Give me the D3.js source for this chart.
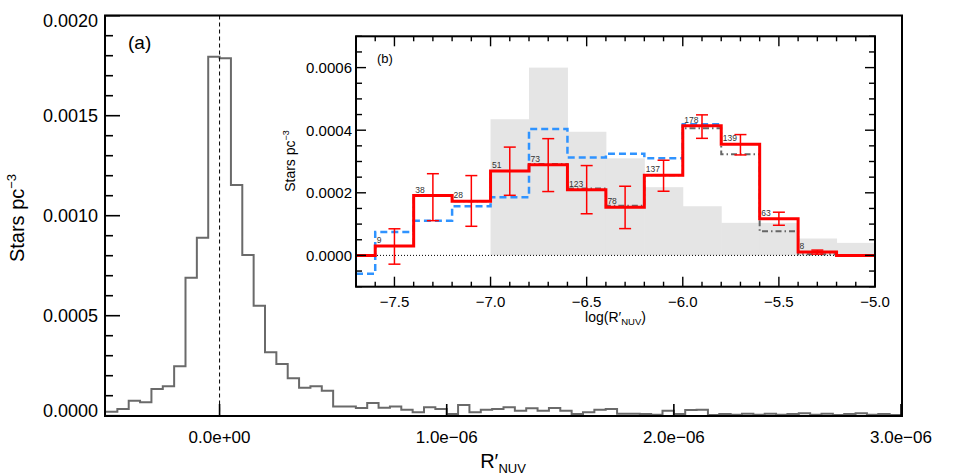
<!DOCTYPE html>
<html><head><meta charset="utf-8">
<script src="https://cdn.jsdelivr.net/npm/d3@7"></script>
<style>body{margin:0;background:#fff}svg{display:block;font-family:"Liberation Sans",Arial,Helvetica,sans-serif}</style>
</head><body><svg id="c" width="954" height="476"></svg>
<script>
// ---------- Panel (a): histogram of R'NUV ----------
const mainBinLeftE6 = [-0.50,-0.45,-0.40,-0.35,-0.30,-0.25,-0.20,-0.15,-0.10,-0.05,
 0.00,0.05,0.10,0.15,0.20,0.25,0.30,0.35,0.40,0.45,0.50,0.55,0.60,0.65,0.70,0.75,0.80,0.85,0.90,0.95,
 1.00,1.05,1.10,1.15,1.20,1.25,1.30,1.35,1.40,1.45,1.50,1.55,1.60,1.65,1.70,1.75,1.80,1.85,1.90,1.95,
 2.00,2.05,2.10,2.15,2.20,2.25,2.30,2.35,2.40,2.45,2.50,2.55,2.60,2.65,2.70,2.75,2.80,2.85,2.90,2.95];
const mainBinWidthE6 = 0.05;
const mainValues = [0.00002,0.000033,0.000075,0.000067,0.000133,0.000147,0.000247,0.00069,0.00089,0.001795,
 0.001787,0.001153,0.000803,0.00055,0.000317,0.000258,0.000187,0.00014,0.000147,0.000125,
 0.000046,0.000046,0.000038,0.000063,0.00004,0.000046,0.00003,0.000017,0.000042,0.000033,
 0.000008,0.000053,0.000017,0.00003,0.000033,0.000042,0.000025,0.000037,0.000025,0.000038,
 0.000025,0.000008,0.000017,0.00003,0.000033,0.00001,0.00001,0.000008,0.000005,0.000025,
 0.000008,0.000028,0.00003,0.000003,0.000008,0.000005,0.00001,0.000005,0.00001,0.000005,
 0.000008,0.000012,0.000005,0.00001,0.000003,0.000008,0.000012,0.000005,0.000008,0.000003];
const mainYTicks = [0,0.0005,0.0010,0.0015,0.0020];
const mainYTickLabels = ["0.0000","0.0005","0.0010","0.0015","0.0020"];
const mainXTicks = [0,1e-6,2e-6,3e-6];
const mainXTickLabels = ["0.0e+00","1.0e\u221206","2.0e\u221206","3.0e\u221206"];

// ---------- Panel (b): log(R'NUV) distribution ----------
const redBinLeft = [-7.7,-7.6,-7.4,-7.2,-7.0,-6.8,-6.6,-6.4,-6.2,-6.0,-5.8,-5.6,-5.4,-5.2];
const redValues  = [0,0.00003,0.000191,0.000173,0.00027,0.00029,0.00021,0.000154,0.000256,0.000414,0.000355,0.000117,0.0000107,0];
const errCenters = [-7.5,-7.3,-7.1,-6.9,-6.7,-6.5,-6.3,-6.1,-5.9,-5.7,-5.5,-5.3];
const errUpper = [0.000085,0.000261,0.000255,0.000346,0.000373,0.000287,0.000221,0.000304,0.000449,0.000386,0.000138,0.000017];
const errLower = [-0.000028,0.000111,0.000093,0.000192,0.000204,0.000133,0.0000856,0.000205,0.000374,0.000321,0.0000963,0.000004];
const countLeft = [-7.6,-7.4,-7.2,-7.0,-6.8,-6.6,-6.4,-6.2,-6.0,-5.8,-5.6,-5.4];
const countValues = [0.00003,0.000191,0.000173,0.00027,0.00029,0.00021,0.000154,0.000256,0.000414,0.000355,0.000117,0.0000107];
const countLabels = ["9","38","28","51","73","123","78","137","178","139","63","8"];
const blueBinLeft = [-7.7,-7.6,-7.4,-7.2,-7.0,-6.8,-6.6,-6.4,-6.2,-6.0];
const blueValues  = [-0.0000586,0.0000746,0.000111,0.000157,0.000186,0.000404,0.000313,0.000325,0.00031,0.000419];
const blueEnd = -5.8;
const dashDotBinLeft = [-7.6,-7.4,-7.2,-7.0,-6.8,-6.6,-6.4,-6.2,-6.0,-5.8,-5.6,-5.4,-5.2];
const dashDotValues  = [0.00003,0.000191,0.000173,0.00027,0.000292,0.000214,0.000159,0.000256,0.000406,0.000323,0.000077,0.000004,0];
const grayBinLeft = [-7.0,-6.8,-6.6,-6.4,-6.2,-6.0,-5.8,-5.6,-5.4,-5.2];
const grayValues  = [0.000435,0.0006,0.000395,0.00031,0.000218,0.000157,0.000104,0.000104,0.000054,0.00004];
const logBinWidth = 0.2;
const insetYTicks = [0,0.0002,0.0004,0.0006];
const insetYTickLabels = ["0.0000","0.0002","0.0004","0.0006"];
const insetXTicks = [-7.5,-7.0,-6.5,-6.0,-5.5,-5.0];
const insetXTickLabels = ["\u22127.5","\u22127.0","\u22126.5","\u22126.0","\u22125.5","\u22125.0"];

const svg = d3.select("#c");

// ===== main panel =====
const M = {l:105, r:902, t:15.5, b:416};
const mx = d3.scaleLinear().domain([-5e-7,3e-6]).range([106,901]);
const my = d3.scaleLinear().domain([0,0.002]).range([415.7,15.7]);

const pts = mainBinLeftE6.map((e,i)=>[e*1e-6, mainValues[i]]);
pts.push([(mainBinLeftE6[mainBinLeftE6.length-1]+mainBinWidthE6)*1e-6, mainValues[mainValues.length-1]]);
svg.append("path").attr("d", d3.line().x(d=>mx(d[0])).y(d=>my(d[1])).curve(d3.curveStepAfter)(pts))
  .attr("fill","none").attr("stroke","#6a6a6a").attr("stroke-width",2);

svg.append("line").attr("x1",mx(0)).attr("x2",mx(0)).attr("y1",M.t).attr("y2",M.b)
  .attr("stroke","#000").attr("stroke-width",1).attr("stroke-dasharray","4,3");

svg.append("rect").attr("x",M.l).attr("y",M.t).attr("width",M.r-M.l).attr("height",M.b-M.t)
  .attr("fill","none").attr("stroke","#000").attr("stroke-width",2);

const yMinor = d3.range(0,0.00201,0.0001);
yMinor.forEach(v=>{
  const major = Math.abs(v/0.0005-Math.round(v/0.0005))<1e-6;
  svg.append("line").attr("x1",M.l).attr("x2",M.l+(major?15:8)).attr("y1",my(v)).attr("y2",my(v))
    .attr("stroke","#000").attr("stroke-width",1.6);
});
mainYTicks.forEach((v,i)=>{
  let y = Math.min(Math.max(my(v),21),411);
  svg.append("text").attr("x",98).attr("y",y).attr("dy","0.36em").attr("text-anchor","end")
    .attr("font-size",18).text(mainYTickLabels[i]);
});
mainXTicks.forEach((v,i)=>{
  svg.append("line").attr("x1",mx(v)).attr("x2",mx(v)).attr("y1",M.b).attr("y2",M.b-12)
    .attr("stroke","#000").attr("stroke-width",1.6);
  svg.append("text").attr("x",mx(v)).attr("y",443).attr("text-anchor","middle")
    .attr("font-size",17).text(mainXTickLabels[i]);
});
const xt = svg.append("text").attr("x",503).attr("y",468).attr("text-anchor","middle").attr("font-size",20);
xt.append("tspan").text("R\u2032");
xt.append("tspan").attr("font-size",13).attr("dy",5).text("NUV");
const yt = svg.append("text").attr("transform","translate(24,218) rotate(-90)").attr("text-anchor","middle").attr("font-size",20);
yt.append("tspan").text("Stars pc");
yt.append("tspan").attr("font-size",13).attr("dy",-8).text("\u22123");
svg.append("text").attr("x",128).attr("y",49).attr("font-size",19).text("(a)");

// ===== inset =====
const I = {l:356, r:875, t:36.3, b:286.7};
const ix = d3.scaleLinear().domain([-7.7,-5.0]).range([I.l,I.r]);
const iy = d3.scaleLinear().domain([-0.0001,0.0007]).range([I.b,I.t]);
const g = svg.append("g");
g.append("rect").attr("x",I.l).attr("y",I.t).attr("width",I.r-I.l).attr("height",I.b-I.t).attr("fill","#fff");

grayBinLeft.forEach((x,i)=>{
  g.append("rect").attr("x",ix(x)).attr("width",ix(x+logBinWidth)-ix(x)+0.5)
    .attr("y",iy(grayValues[i])).attr("height",iy(0)-iy(grayValues[i])).attr("fill","#e5e5e5");
});
g.append("line").attr("x1",I.l).attr("x2",I.r).attr("y1",iy(0)).attr("y2",iy(0))
  .attr("stroke","#000").attr("stroke-width",1).attr("stroke-dasharray","1,2");

const stepLine = d3.line().x(d=>ix(d[0])).y(d=>iy(d[1])).curve(d3.curveStepAfter);
const bp = blueBinLeft.map((x,i)=>[x,blueValues[i]]); bp.push([blueEnd, blueValues[blueValues.length-1]]);
g.append("path").attr("d",stepLine(bp)).attr("fill","none").attr("stroke","#2f93ff")
  .attr("stroke-width",2.5).attr("stroke-dasharray","7,4");
const dp = dashDotBinLeft.map((x,i)=>[x,dashDotValues[i]]); dp.push([-5.0,0]);
g.append("path").attr("d",stepLine(dp)).attr("fill","none").attr("stroke","#666")
  .attr("stroke-width",2).attr("stroke-dasharray","6,3,1.5,3");
const rp = redBinLeft.map((x,i)=>[x,redValues[i]]); rp.push([-5.0,0]);
g.append("path").attr("d",stepLine(rp)).attr("fill","none").attr("stroke","#ff0000").attr("stroke-width",3);
errCenters.forEach((c,i)=>{
  const x=ix(c), y1=iy(errUpper[i]), y2=iy(errLower[i]);
  g.append("line").attr("x1",x).attr("x2",x).attr("y1",y1).attr("y2",y2).attr("stroke","#ff0000").attr("stroke-width",1.5);
  [y1,y2].forEach(y=>g.append("line").attr("x1",x-6).attr("x2",x+6).attr("y1",y).attr("y2",y).attr("stroke","#ff0000").attr("stroke-width",1.5));
});
countLeft.forEach((x,i)=>{
  g.append("text").attr("x",ix(x)+1.5).attr("y",iy(countValues[i])-3).attr("font-size",8.5)
    .attr("fill","#333").text(countLabels[i]);
});
g.append("rect").attr("x",I.l).attr("y",I.t).attr("width",I.r-I.l).attr("height",I.b-I.t)
  .attr("fill","none").attr("stroke","#000").attr("stroke-width",2);
d3.range(-0.0001,0.00070001,0.00005).forEach(v=>{
  const major = Math.abs(v/0.0002-Math.round(v/0.0002))<1e-6;
  const len = major?10:6;
  g.append("line").attr("x1",I.l).attr("x2",I.l+len).attr("y1",iy(v)).attr("y2",iy(v)).attr("stroke","#000").attr("stroke-width",1.4);
  g.append("line").attr("x1",I.r).attr("x2",I.r-len).attr("y1",iy(v)).attr("y2",iy(v)).attr("stroke","#000").attr("stroke-width",1.4);
});
insetYTicks.forEach((v,i)=>{
  g.append("text").attr("x",352).attr("y",iy(v)).attr("dy","0.36em").attr("text-anchor","end")
    .attr("font-size",15).text(insetYTickLabels[i]);
});
d3.range(-7.7,-4.99,0.1).forEach(v=>{
  const major = Math.abs(v/0.5-Math.round(v/0.5))<1e-6;
  const len = major?10:5;
  g.append("line").attr("x1",ix(v)).attr("x2",ix(v)).attr("y1",I.b).attr("y2",I.b-len).attr("stroke","#000").attr("stroke-width",1.4);
  g.append("line").attr("x1",ix(v)).attr("x2",ix(v)).attr("y1",I.t).attr("y2",I.t+len).attr("stroke","#000").attr("stroke-width",1.4);
});
insetXTicks.forEach((v,i)=>{
  g.append("text").attr("x",ix(v)).attr("y",307).attr("text-anchor","middle").attr("font-size",15).text(insetXTickLabels[i]);
});
const ixt = g.append("text").attr("x",615.5).attr("y",322).attr("text-anchor","middle").attr("font-size",14);
ixt.append("tspan").text("log(R\u2032");
ixt.append("tspan").attr("font-size",9.5).attr("dy",3).text("NUV");
ixt.append("tspan").attr("dy",-3).text(")");
const iyt = g.append("text").attr("transform","translate(295,161) rotate(-90)").attr("text-anchor","middle").attr("font-size",14);
iyt.append("tspan").text("Stars pc");
iyt.append("tspan").attr("font-size",9).attr("dy",-6).text("\u22123");
g.append("text").attr("x",377).attr("y",63).attr("font-size",13).text("(b)");
</script></body></html>
